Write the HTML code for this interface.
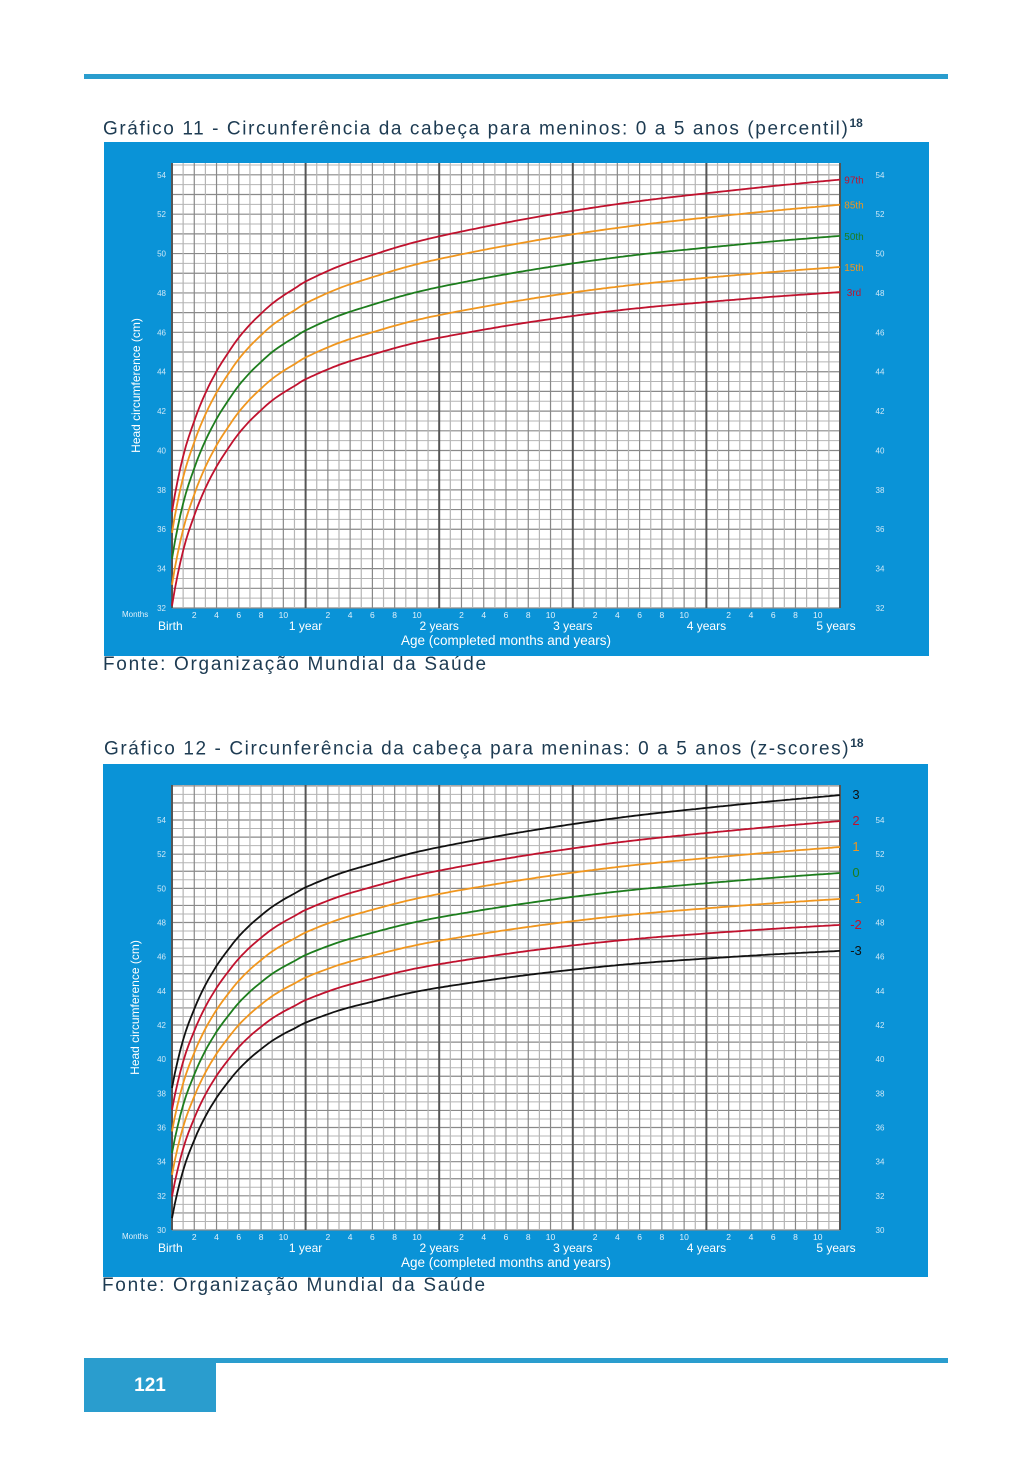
<!DOCTYPE html>
<html><head><meta charset="utf-8">
<style>
body{margin:0;background:#fff;width:1033px;height:1477px;position:relative;overflow:hidden;font-family:"Liberation Sans",sans-serif}
.t{position:absolute;font-size:19px;color:#1d3b52;letter-spacing:1.6px;white-space:nowrap}
.t sup{font-size:12px;font-weight:bold;letter-spacing:0}
</style></head><body>
<div style="position:absolute;left:84px;top:74px;width:864px;height:5px;background:#2a9dce"></div>
<div class="t" style="left:103px;top:116px">Gráfico 11 - Circunferência da cabeça para meninos: 0 a 5 anos (percentil)<sup>18</sup></div>
<svg id="c1" style="position:absolute;left:104px;top:142px" width="825" height="514"></svg>
<div class="t" style="left:103px;top:654px;letter-spacing:1.7px">Fonte: Organização Mundial da Saúde</div>
<div class="t" style="left:104px;top:736px">Gráfico 12 - Circunferência da cabeça para meninas: 0 a 5 anos (z-scores)<sup>18</sup></div>
<svg id="c2" style="position:absolute;left:103px;top:764px" width="825" height="513"></svg>
<div class="t" style="left:102px;top:1275px;letter-spacing:1.7px">Fonte: Organização Mundial da Saúde</div>
<div style="position:absolute;left:84px;top:1358px;width:864px;height:5px;background:#2a9dce"></div>
<div style="position:absolute;left:84px;top:1358px;width:132px;height:54px;background:#2a9dce;color:#fff;font-weight:bold;font-size:19px;text-align:center;line-height:56px">121</div>
<script>
var mk=[0,1,2,3,4,5,6,7,8,9,10,11,12,15,18,21,24,30,36,42,48,54,60];
var md=[34.5,37.3,39.1,40.5,41.6,42.5,43.3,43.95,44.5,45.0,45.4,45.75,46.1,46.85,47.4,47.9,48.3,48.95,49.5,49.95,50.3,50.62,50.9];
function interp(xs,ys,t){var i=0;while(i<xs.length-2&&t>xs[i+1])i++;
 var x0=xs[i],x1=xs[i+1],y0=ys[i],y1=ys[i+1];
 var m0=i>0?(ys[i+1]-ys[i-1])/(xs[i+1]-xs[i-1]):(y1-y0)/(x1-x0)*1.3;
 var m1=i<xs.length-2?(ys[i+2]-ys[i])/(xs[i+2]-xs[i]):(y1-y0)/(x1-x0);
 var h=x1-x0,s=(t-x0)/h,s2=s*s,s3=s2*s;
 return (2*s3-3*s2+1)*y0+(s3-2*s2+s)*h*m0+(-2*s3+3*s2)*y1+(s3-s2)*h*m1;}
function sd(t){return 1.27+0.25*Math.min(t,60)/60;}
var NS='http://www.w3.org/2000/svg';
function el(svg,n,a,txt){var e=document.createElementNS(NS,n);for(var k in a)e.setAttribute(k,a[k]);if(txt!==undefined)e.textContent=txt;svg.appendChild(e);return e;}
function chart(id,o){
 var s=document.getElementById(id);
 el(s,'rect',{x:0,y:0,width:825,height:514,fill:'#0a93d7'});
 var L=o.L,R=o.R,T=o.T,B=o.B,lo=o.lo,hi=o.hi;
 var X=function(m){return L+(R-L)*m/60;},Y=function(v){return B-(B-T)*(v-lo)/(hi-lo);};
 el(s,'rect',{x:L,y:T,width:o.RW-L,height:B-T,fill:'#fff'});
 for(var v=lo;v<=hi+0.01;v+=0.5){var y=Y(v);el(s,'line',{x1:L,x2:o.RW,y1:y,y2:y,stroke:(v%1==0)?'#8a8a8a':'#b5b5b5','stroke-width':(v%1==0)?1.2:1});}
 for(var m=0;m<=60;m++){var x=X(m);el(s,'line',{x1:x,x2:x,y1:T,y2:B,stroke:m%12==0?'#555':(m%2==0?'#888':'#b5b5b5'),'stroke-width':m%12==0?2:1.2});}
 for(var v=lo;v<=54;v+=2){el(s,'text',{x:L-6,y:Y(v)+3,'font-size':8,fill:'#cfe8f7','text-anchor':'end'},v);el(s,'text',{x:o.RW+40,y:Y(v)+3,'font-size':8,fill:'#cfe8f7','text-anchor':'middle'},v);}
 el(s,'text',{x:o.ylx,y:(T+B)/2,'font-size':12,fill:'#fff','text-anchor':'middle',transform:'rotate(-90 '+o.ylx+' '+(T+B)/2+')'},'Head circumference (cm)');
 el(s,'text',{x:L-50,y:B+9,'font-size':8,fill:'#e0f0fa'},'Months');
 for(var yr=0;yr<5;yr++)for(var k=2;k<=10;k+=2)el(s,'text',{x:X(yr*12+k),y:B+10,'font-size':8.5,fill:'#e0f0fa','text-anchor':'middle'},k);
 var yl=['Birth','1 year','2 years','3 years','4 years','5 years'];
 for(var i=0;i<6;i++)el(s,'text',{x:i==0?X(0)-14:X(i*12)-(i==5?4:0),y:B+22,'font-size':12,fill:'#fff','text-anchor':i==0?'start':'middle'},yl[i]);
 el(s,'text',{x:X(30),y:B+37,'font-size':13.5,fill:'#fff','text-anchor':'middle'},'Age (completed months and years)');
 o.curves.forEach(function(c){var d='';for(var t=0;t<=60.001;t+=0.25){var v=interp(mk,md,t)+c.z*sd(t);d+=(t==0?'M':'L')+X(t).toFixed(1)+','+Y(v).toFixed(1);}
  el(s,'path',{d:d,fill:'none',stroke:c.c,'stroke-width':1.8});
  var ve=interp(mk,md,60)+c.z*sd(60);el(s,'text',{x:R+o.lx,y:Y(ve)+4,'font-size':o.lfs,fill:c.lc||c.c,'text-anchor':'middle'},c.l);});
}
chart('c1',{L:68,R:736,RW:736,T:21,B:466,lo:32,hi:54.6,ylx:36,lx:14,lfs:10,curves:[
 {z:1.88,c:'#c0122e',l:'97th'},{z:1.04,c:'#f0961e',l:'85th'},{z:0,c:'#1d7d1d',l:'50th'},{z:-1.04,c:'#f0961e',l:'15th'},{z:-1.88,c:'#c0122e',l:'3rd'}]});
chart('c2',{L:69,R:737,RW:737,T:21,B:466,lo:30,hi:56.05,ylx:36,lx:16,lfs:13,curves:[
 {z:3,c:'#111',l:'3'},{z:2,c:'#c0122e',l:'2'},{z:1,c:'#f0961e',l:'1'},{z:0,c:'#1d7d1d',l:'0'},{z:-1,c:'#f0961e',l:'-1'},{z:-2,c:'#c0122e',l:'-2'},{z:-3,c:'#111',l:'-3'}]});
</script>
</body></html>
